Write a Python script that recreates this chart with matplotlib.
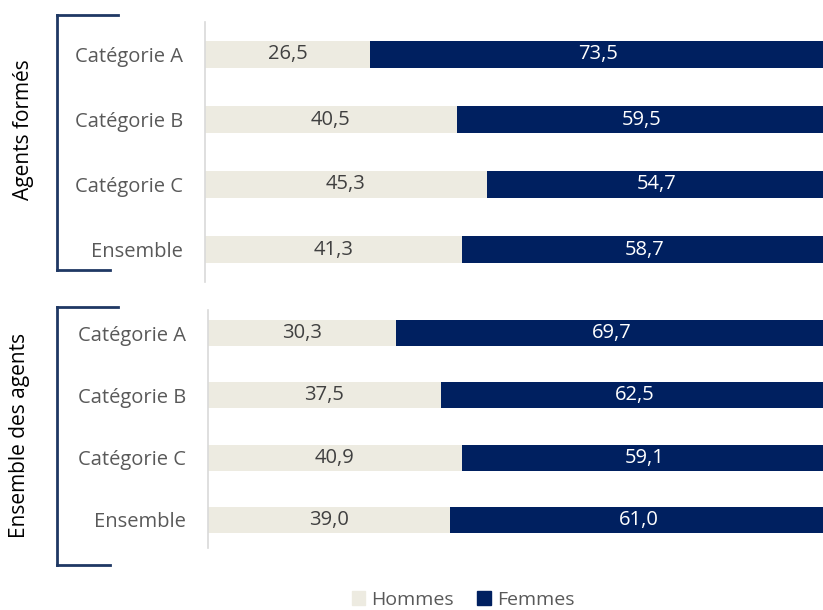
import matplotlib.pyplot as plt
from matplotlib.lines import Line2D
from matplotlib.patches import Patch

plt.rcParams['font.family'] = ['Open Sans', 'DejaVu Sans']

categories = ["Catégorie A", "Catégorie B", "Catégorie C", "Ensemble"]
hommes_formes = [26.5, 40.5, 45.3, 41.3]
femmes_formes = [73.5, 59.5, 54.7, 58.7]
hommes_tous = [30.3, 37.5, 40.9, 39.0]
femmes_tous = [69.7, 62.5, 59.1, 61.0]

c_h = "#EDEBE1"
c_f = "#002060"
grey_txt = "#595959"

W, H = 823, 610
fig = plt.figure(figsize=(W / 100, H / 100), dpi=100)


def px_axes(left, top, right, bottom):
    return fig.add_axes([left / W, 1 - bottom / H, (right - left) / W, (bottom - top) / H])


def draw(ax, hom, fem, ylim):
    y = list(range(len(categories)))
    ax.barh(y, hom, height=0.42, color=c_h)
    ax.barh(y, fem, left=hom, height=0.42, color=c_f)
    for i in y:
        ax.text(hom[i] / 2, i, f"{hom[i]:.1f}".replace(".", ","), ha="center", va="center",
                fontsize=14.5, color="#404040")
        ax.text(hom[i] + fem[i] / 2, i, f"{fem[i]:.1f}".replace(".", ","), ha="center", va="center",
                fontsize=14.5, color="white")
    ax.set_xlim(0, 100)
    ax.set_ylim(*ylim)
    ax.set_yticks(y)
    ax.set_yticklabels(categories, fontsize=14.5, color=grey_txt)
    ax.tick_params(axis="y", length=0, pad=16)
    ax.set_xticks([])
    for s in ["top", "right", "bottom"]:
        ax.spines[s].set_visible(False)
    ax.spines["left"].set_color("#D9D9D9")
    ax.spines["left"].set_linewidth(1.2)
    ax.set_facecolor("none")


ax1 = px_axes(205, 22, 827, 282)
draw(ax1, hommes_formes, femmes_formes, (3.5, -0.5))
ax2 = px_axes(208, 310, 828, 548)
draw(ax2, hommes_tous, femmes_tous, (3.45, -0.37))


# accolades a gauche
def bracket(top, bottom):
    x0 = 57 / W
    kw = dict(color="#1F3864", lw=2, transform=fig.transFigure)
    fig.add_artist(Line2D([x0, x0], [1 - top / H, 1 - bottom / H], **kw))
    fig.add_artist(Line2D([x0, 118 / W], [1 - top / H, 1 - top / H], **kw))
    fig.add_artist(Line2D([x0, 110 / W], [1 - bottom / H, 1 - bottom / H], **kw))


bracket(15, 270)
bracket(307, 565)
fig.text(24 / W, 1 - 130 / H, "Agents formés", rotation=90, ha="center", va="center",
         fontsize=15, color="black")
fig.text(20 / W, 1 - 435 / H, "Ensemble des agents", rotation=90, ha="center", va="center",
         fontsize=15, color="black")

handles = [Patch(color=c_h, label="Hommes"), Patch(color=c_f, label="Femmes")]
leg = fig.legend(handles=handles, loc="center", bbox_to_anchor=(463 / W, 1 - 600 / H), ncol=2,
                 frameon=False, fontsize=14, handlelength=0.7, handleheight=0.7,
                 handletextpad=0.3, columnspacing=1.2)
for t in leg.get_texts():
    t.set_color(grey_txt)

fig.savefig("out.png", dpi=100)
